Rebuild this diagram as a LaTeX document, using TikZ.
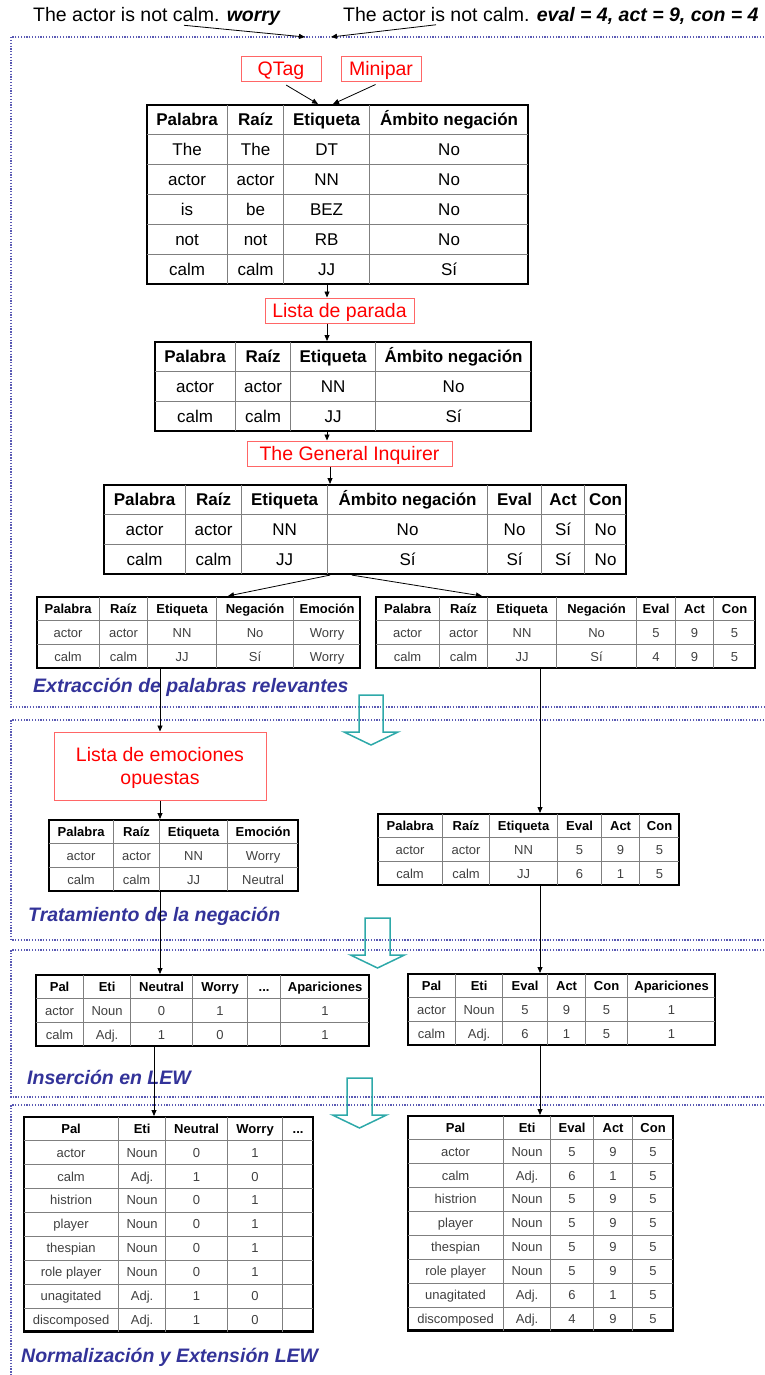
\documentclass[tikz,border=0pt]{standalone}
\usepackage{fontspec}
\setmainfont{Liberation Sans}
\usepackage{array,colortbl}
\usepackage{tikz}
\usetikzlibrary{arrows.meta,positioning,calc}
\definecolor{toolred}{HTML}{FF0000}
\definecolor{toolline}{HTML}{FF6666}
\definecolor{stageblue}{HTML}{333399}
\definecolor{sectline}{HTML}{5A5AB4}
\definecolor{hollowteal}{HTML}{2EA9A9}
\definecolor{gridgray}{HTML}{7F7F7F}
\newcolumntype{C}[1]{>{\centering\arraybackslash}p{#1pt}}
\newcommand{\hd}[1]{\textbf{\color{black}#1}}
\setlength{\tabcolsep}{0pt}
\setlength{\arrayrulewidth}{1pt}
\arrayrulecolor{gridgray}
\tikzset{
  bigtab/.style={
    draw, line width=2.2pt, inner sep=0pt, anchor=north west,
    font=\fontsize{17}{20.4}\selectfont,
    execute at begin node={\def\arraystretch{1.42}}
  },
  smalltab/.style={
    draw, line width=2.2pt, inner sep=0pt, anchor=north west, text=black!75,
    font=\fontsize{13}{15.6}\selectfont,
    execute at begin node={\def\arraystretch{1.47}}
  },
  tool/.style={
    draw=toolline, line width=1pt, text=toolred, inner sep=0pt,
    text height=14pt, text depth=0.5pt,
    minimum height=25pt, align=center, font=\fontsize{19.5}{23.4}\selectfont
  },
  stage/.style={text=stageblue, inner sep=0pt, anchor=west,
    font=\fontsize{19.5}{23.4}\selectfont\bfseries\itshape},
  phrase/.style={inner sep=0pt, anchor=west, font=\fontsize{19.5}{23.4}\selectfont},
  conn/.style={-{Triangle[length=6pt,width=5pt]}, line width=0.8pt},
  sect/.style={draw=sectline, line width=1.3pt, dash pattern=on 1.3pt off 1.5pt},
  hollow/.style={draw=hollowteal, line width=1.5pt, line join=miter},
}

\begin{document}
\begin{tikzpicture}[x=1pt, y=-1pt]
  \useasboundingbox (0,0) rectangle (764,1375);
  % stages
  \draw[sect] (764,37) -| (11,707) -- (764,707);
  \draw[sect] (764,720) -| (11,940) -- (764,940);
  \draw[sect] (764,950) -| (11,1097) -- (764,1097);
  \draw[sect] (764,1105) -| (11,1375);
  \foreach \cx/\ty/\hw in {371/695/12, 377.5/918/12.5, 359.5/1078/12.5}
    \draw[hollow] ({\cx-\hw},\ty) -- ({\cx+\hw},\ty) -- ({\cx+\hw},{\ty+37})
      -- ({\cx+27},{\ty+37}) -- (\cx,{\ty+50}) -- ({\cx-27},{\ty+37})
      -- ({\cx-\hw},{\ty+37}) -- cycle;
  \node[stage] (st1) at (33,687) {Extracción de palabras relevantes};
  \node[stage] (st2) at (28,916) {Tratamiento de la negación};
  \node[stage] (st3) at (27,1077) {Inserción en LEW};
  \node[stage] (st4) at (21,1357) {Normalización y Extensión LEW};

  % input sentences
  \node[phrase] (sentemo) at (33,16) {The actor is not calm. \textbf{\textit{worry}}};
  \node[phrase] (sentgi) at (343,16) {The actor is not calm. \textbf{\textit{eval = 4, act = 9, con = 4}}};
  \coordinate (inemo) at (305,37);
  \coordinate (ingi) at (331,37);
  \draw[conn] ($(sentemo.south west)+(151,0)$) -- (inemo);
  \draw[conn] ($(sentgi.south west)+(93,0)$) -- (ingi);

  % extraction
  \node[tool, minimum width=80pt] (qtag) at (281,69) {QTag};
  \node[tool, minimum width=80pt] (minipar) at (381,69) {Minipar};
  \node[bigtab] (tagall) at (146,104) {\begin{tabular}{C{80}|C{55}|C{85}|C{158}}
    \hd{Palabra} & \hd{Raíz} & \hd{Etiqueta} & \hd{Ámbito negación}\\ \hline
    The & The & DT & No\\ \hline
    actor & actor & NN & No\\ \hline
    is & be & BEZ & No\\ \hline
    not & not & RB & No\\ \hline
    calm & calm & JJ & Sí
  \end{tabular}};
  \draw[conn, shorten <=6pt] (qtag.south) -- ($(tagall.north west)+(172,0)$);
  \draw[conn, shorten <=6pt] (minipar.south) -- ($(tagall.north west)+(187,0)$);

  \node[tool, minimum width=149pt] (stoplist) at (339.5,310.5) {Lista de parada};
  \draw[conn] ($(tagall.south west)+(181,0)$) coordinate (s1) -- (s1 |- stoplist.north);
  \node[bigtab] (tagkept) at (154,341) {\begin{tabular}{C{80}|C{54}|C{84}|C{155}}
    \hd{Palabra} & \hd{Raíz} & \hd{Etiqueta} & \hd{Ámbito negación}\\ \hline
    actor & actor & NN & No\\ \hline
    calm & calm & JJ & Sí
  \end{tabular}};
  \draw[conn] (s1 |- stoplist.south) -- (s1 |- tagkept.north);

  \node[tool, minimum width=205pt] (inquirer) at (349.5,453.5) {The General Inquirer};
  \draw[conn] (s1 |- tagkept.south) -- (s1 |- inquirer.north);
  \node[bigtab] (tagdims) at (103,484) {\begin{tabular}{C{81}|C{55}|C{85}|C{159}|C{53}|C{42}|C{41}}
    \hd{Palabra} & \hd{Raíz} & \hd{Etiqueta} & \hd{Ámbito negación} & \hd{Eval} & \hd{Act} & \hd{Con}\\ \hline
    actor & actor & NN & No & No & Sí & No\\ \hline
    calm & calm & JJ & Sí & Sí & Sí & No
  \end{tabular}};
  \draw[conn] ([xshift=-19.5pt]inquirer.south) coordinate (s2) -- (s2 |- tagdims.north);

  \node[smalltab] (emorel) at (36,596) {\begin{tabular}{C{62}|C{47}|C{68}|C{76}|C{66}}
    \hd{Palabra} & \hd{Raíz} & \hd{Etiqueta} & \hd{Negación} & \hd{Emoción}\\ \hline
    actor & actor & NN & No & Worry\\ \hline
    calm & calm & JJ & Sí & Worry
  \end{tabular}};
  \node[smalltab] (dimrel) at (375,596) {\begin{tabular}{C{63}|C{47}|C{68}|C{79}|C{38}|C{37}|C{41}}
    \hd{Palabra} & \hd{Raíz} & \hd{Etiqueta} & \hd{Negación} & \hd{Eval} & \hd{Act} & \hd{Con}\\ \hline
    actor & actor & NN & No & 5 & 9 & 5\\ \hline
    calm & calm & JJ & Sí & 4 & 9 & 5
  \end{tabular}};
  \draw[conn] ($(tagdims.south west)+(227,0)$) -- ($(emorel.north west)+(192,0)$);
  \draw[conn] ($(tagdims.south west)+(249,0)$) -- ($(dimrel.north west)+(107,0)$);

  % negation
  \node[tool, minimum width=212pt, minimum height=68pt, text height=37.4pt] (opposites)
    at (160,766) {Lista de emociones\\opuestas};
  \draw[conn] ($(emorel.south west)+(124,0)$) coordinate (e1) -- (e1 |- opposites.north);
  \node[smalltab] (emoneg) at (48,819) {\begin{tabular}{C{64}|C{45}|C{67}|C{70}}
    \hd{Palabra} & \hd{Raíz} & \hd{Etiqueta} & \hd{Emoción}\\ \hline
    actor & actor & NN & Worry\\ \hline
    calm & calm & JJ & Neutral
  \end{tabular}};
  \draw[conn] (e1 |- opposites.south) -- (e1 |- emoneg.north);
  \node[smalltab] (dimneg) at (377,813) {\begin{tabular}{C{64}|C{46}|C{67}|C{43}|C{37}|C{39}}
    \hd{Palabra} & \hd{Raíz} & \hd{Etiqueta} & \hd{Eval} & \hd{Act} & \hd{Con}\\ \hline
    actor & actor & NN & 5 & 9 & 5\\ \hline
    calm & calm & JJ & 6 & 1 & 5
  \end{tabular}};
  \draw[conn] ($(dimrel.south west)+(165,0)$) coordinate (g1) -- (g1 |- dimneg.north);

  % LEW
  \node[smalltab] (emolew) at (35,974) {\begin{tabular}{C{47}|C{46}|C{61}|C{54}|C{32}|C{88}}
    \hd{Pal} & \hd{Eti} & \hd{Neutral} & \hd{Worry} & \hd{...} & \hd{Apariciones}\\ \hline
    actor & Noun & 0 & 1 & & 1\\ \hline
    calm & Adj. & 1 & 0 & & 1
  \end{tabular}};
  \draw[conn] (e1 |- emoneg.south) -- (e1 |- emolew.north);
  \node[smalltab] (dimlew) at (407,973) {\begin{tabular}{C{47}|C{46}|C{44}|C{37}|C{41}|C{87}}
    \hd{Pal} & \hd{Eti} & \hd{Eval} & \hd{Act} & \hd{Con} & \hd{Apariciones}\\ \hline
    actor & Noun & 5 & 9 & 5 & 1\\ \hline
    calm & Adj. & 6 & 1 & 5 & 1
  \end{tabular}};
  \draw[conn] (g1 |- dimneg.south) -- (g1 |- dimlew.north);

  % normalization
  \node[smalltab] (emonorm) at (23,1116) {\begin{tabular}{C{94}|C{46}|C{61}|C{54}|C{30}}
    \hd{Pal} & \hd{Eti} & \hd{Neutral} & \hd{Worry} & \hd{...}\\ \hline
    actor & Noun & 0 & 1 & \\ \hline
    calm & Adj. & 1 & 0 & \\ \hline
    histrion & Noun & 0 & 1 & \\ \hline
    player & Noun & 0 & 1 & \\ \hline
    thespian & Noun & 0 & 1 & \\ \hline
    role player & Noun & 0 & 1 & \\ \hline
    unagitated & Adj. & 1 & 0 & \\ \hline
    discomposed & Adj. & 1 & 0 &
  \end{tabular}};
  \draw[conn] ($(emolew.south west)+(119,0)$) coordinate (e2) -- (e2 |- emonorm.north);
  \node[smalltab] (dimnorm) at (407,1115) {\begin{tabular}{C{95}|C{46}|C{42}|C{38}|C{40}}
    \hd{Pal} & \hd{Eti} & \hd{Eval} & \hd{Act} & \hd{Con}\\ \hline
    actor & Noun & 5 & 9 & 5\\ \hline
    calm & Adj. & 6 & 1 & 5\\ \hline
    histrion & Noun & 5 & 9 & 5\\ \hline
    player & Noun & 5 & 9 & 5\\ \hline
    thespian & Noun & 5 & 9 & 5\\ \hline
    role player & Noun & 5 & 9 & 5\\ \hline
    unagitated & Adj. & 6 & 1 & 5\\ \hline
    discomposed & Adj. & 4 & 9 & 5
  \end{tabular}};
  \draw[conn] (g1 |- dimlew.south) -- (g1 |- dimnorm.north);
\end{tikzpicture}
\end{document}
